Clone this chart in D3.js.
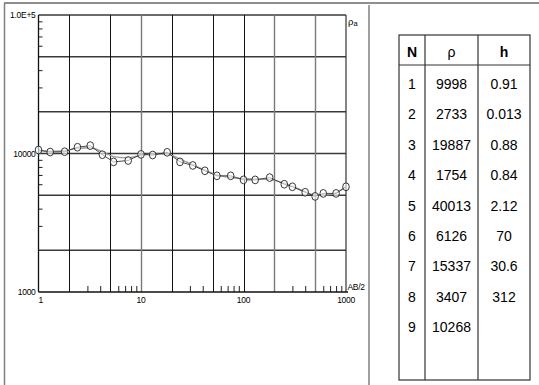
<!DOCTYPE html>
<html>
<head>
<meta charset="utf-8">
<script src="https://cdn.jsdelivr.net/npm/d3@7"></script>
<style>
  html, body { margin: 0; padding: 0; background: #fff; }
  svg { display: block; }
  text { font-family: "Liberation Sans", Arial, sans-serif; fill: #000; }
</style>
</head>
<body>
<svg id="chart" width="539" height="385"></svg>
<script>
// Sounding: half electrode spacing AB/2 (m) and apparent resistivity
const abHalf = [1, 1.3, 1.8, 2.4, 3.2, 4.2, 5.4, 7.5, 10, 13, 18, 24, 32, 42, 55, 75,
                100, 130, 180, 250, 300, 400, 500, 600, 800, 1000];
const rhoObserved = [10600, 10250, 10300, 11100, 11400, 9800, 8700, 8900, 9850, 9750, 10200, 8700, 8200,
                     7500, 6900, 6900, 6450, 6450, 6700, 6000, 5750, 5250, 4900, 5150, 5150, 5750];
const rhoModel = [10500, 10400, 10500, 10900, 11000, 10300, 9500, 9300, 9700, 9900, 9900, 9100, 8300,
                  7600, 7000, 6700, 6600, 6550, 6500, 6100, 5800, 5300, 5000, 5000, 5200, 5800];

// Layered model table
const layerN = [1, 2, 3, 4, 5, 6, 7, 8, 9];
const layerRho = [9998, 2733, 19887, 1754, 40013, 6126, 15337, 3407, 10268];
const layerH = ["0.91", "0.013", "0.88", "0.84", "2.12", "70", "30.6", "312", ""];
const tableHeaders = ["N", "\u03c1", "h"];

// Axis ticks
const xLabelTicks = [1, 10, 100, 1000];
const xGridDark = [2, 5, 20, 50, 100];
const xGridLight = [10, 200, 500];
const yGrid = [2000, 5000, 10000, 20000, 50000];
const yLabelTicks = [{v: 100000, t: "1.0E+5"}, {v: 10000, t: "10000"}, {v: 1000, t: "1000"}];

const svg = d3.select("#chart");
svg.append("rect").attr("width", 539).attr("height", 385).attr("fill", "#fff");

// Outer frame
svg.append("line").attr("x1", 4).attr("y1", 3).attr("x2", 539).attr("y2", 3)
  .attr("stroke", "#6a6a6a").attr("stroke-width", 1.5);
svg.append("line").attr("x1", 4.5).attr("y1", 3).attr("x2", 4.5).attr("y2", 385)
  .attr("stroke", "#808080").attr("stroke-width", 1.5);
svg.append("line").attr("x1", 369).attr("y1", 5).attr("x2", 369).attr("y2", 385)
  .attr("stroke", "#808080").attr("stroke-width", 1.5);

const L = 38.5, R = 346, T = 15, B = 292;
const x = d3.scaleLog().domain([1, 1000]).range([L, R]);
const y = d3.scaleLog().domain([1000, 100000]).range([B, T]);

const plot = svg.append("g");

// Horizontal grid lines
plot.selectAll("line.hg").data(yGrid).join("line")
  .attr("x1", L).attr("x2", R).attr("y1", d => y(d)).attr("y2", d => y(d))
  .attr("stroke", "#3a3a3a").attr("stroke-width", 1.6);
plot.append("line").attr("x1", L).attr("x2", R).attr("y1", T).attr("y2", T)
  .attr("stroke", "#3a3a3a").attr("stroke-width", 1.6);

// Vertical grid lines
plot.selectAll("line.vd").data(xGridDark).join("line")
  .attr("x1", d => Math.round(x(d)) + 0.5).attr("x2", d => Math.round(x(d)) + 0.5)
  .attr("y1", T).attr("y2", B).attr("stroke", "#111").attr("stroke-width", 1);
plot.selectAll("line.vl").data(xGridLight).join("line")
  .attr("x1", d => Math.round(x(d)) + 0.5).attr("x2", d => Math.round(x(d)) + 0.5)
  .attr("y1", T).attr("y2", B).attr("stroke", "#7a7a7a").attr("stroke-width", 1.4);
plot.append("line").attr("x1", R).attr("x2", R).attr("y1", T).attr("y2", B)
  .attr("stroke", "#333").attr("stroke-width", 1.2);

// Axes: minor ticks drawn inward
const xAxis = d3.axisTop(x).tickValues(d3.range(0, 3).flatMap(e => [3, 4, 6, 7, 8, 9].map(k => k * Math.pow(10, e))))
  .tickSize(6).tickFormat("");
plot.append("g").attr("transform", `translate(0,${B})`).call(xAxis)
  .call(g => g.select(".domain").remove())
  .selectAll("line").attr("stroke", "#222");
plot.append("line").attr("x1", L).attr("x2", R + 2).attr("y1", B).attr("y2", B)
  .attr("stroke", "#111").attr("stroke-width", 1.3);

const yAxis = d3.axisRight(y).tickValues(d3.range(3, 5).flatMap(e => [3, 4, 6, 7, 8, 9].map(k => k * Math.pow(10, e))))
  .tickSize(4).tickFormat("");
plot.append("g").attr("transform", `translate(${L},0)`).call(yAxis)
  .call(g => g.select(".domain").remove())
  .selectAll("line").attr("stroke", "#222");
plot.append("line").attr("x1", L).attr("x2", L).attr("y1", T).attr("y2", B)
  .attr("stroke", "#111").attr("stroke-width", 1.3);

// Axis labels
plot.selectAll("text.yl").data(yLabelTicks).join("text")
  .attr("x", 35.5).attr("y", d => y(d.v) + 3)
  .attr("text-anchor", "end").attr("font-size", 8.5).attr("letter-spacing", -0.3)
  .text(d => d.t);
plot.selectAll("text.xl").data(xLabelTicks).join("text")
  .attr("x", d => x(d)).attr("y", B + 11)
  .attr("text-anchor", (d, i) => i === 0 ? "start" : "middle")
  .attr("font-size", 8.5).attr("letter-spacing", -0.3)
  .text(d => d);
plot.append("text").attr("x", R + 1.5).attr("y", B - 2).attr("font-size", 8.5)
  .attr("letter-spacing", -0.3).text("AB/2");
const rhoLabel = plot.append("text").attr("x", R + 2).attr("y", T + 10).attr("font-size", 9.5);
rhoLabel.append("tspan").text("\u03c1");
rhoLabel.append("tspan").attr("font-size", 7.5).attr("dy", 1).text("a");

// Model curve
const line = d3.line().x((d, i) => x(abHalf[i])).y(d => y(d)).curve(d3.curveMonotoneX);
plot.append("path").datum(rhoModel).attr("d", line)
  .attr("fill", "none").attr("stroke", "#9a9a9a").attr("stroke-width", 1.3);

// Observed curve with open markers
const lineObs = d3.line().x((d, i) => x(abHalf[i])).y(d => y(d));
plot.append("path").datum(rhoObserved).attr("d", lineObs)
  .attr("fill", "none").attr("stroke", "#333").attr("stroke-width", 0.9);
plot.selectAll("ellipse.obs").data(rhoObserved).join("ellipse")
  .attr("cx", (d, i) => x(abHalf[i])).attr("cy", d => y(d))
  .attr("rx", 3.3).attr("ry", 3.9)
  .attr("fill", "#fff").attr("fill-opacity", 0.6)
  .attr("stroke", "#222").attr("stroke-width", 0.9);

// Layer table
const tL = 399, tR = 530, tT = 35, tH = 65, tB = 380;
const colX = [tL, 425, 478, tR];
const tbl = svg.append("g");
tbl.append("rect").attr("x", tL).attr("y", tT).attr("width", tR - tL).attr("height", tB - tT)
  .attr("fill", "none").attr("stroke", "#333").attr("stroke-width", 1.2);
tbl.append("line").attr("x1", tL).attr("x2", tR).attr("y1", tH).attr("y2", tH)
  .attr("stroke", "#333").attr("stroke-width", 1.2);
tbl.selectAll("line.col").data(colX.slice(1, 3)).join("line")
  .attr("x1", d => d).attr("x2", d => d).attr("y1", tT).attr("y2", tB)
  .attr("stroke", "#333").attr("stroke-width", 1.2);

const colMid = [0, 1, 2].map(i => (colX[i] + colX[i + 1]) / 2);
tbl.selectAll("text.hdr").data(tableHeaders).join("text")
  .attr("x", (d, i) => colMid[i]).attr("y", 57)
  .attr("text-anchor", "middle").attr("font-size", 14)
  .attr("font-weight", (d, i) => i === 1 ? "normal" : "bold")
  .text(d => d);

const rowY = d3.scaleLinear().domain([1, 9]).range([84, 327]);
const rows = layerN.map((n, i) => [n, layerRho[i], layerH[i]]);
rows.forEach((r, ri) => {
  tbl.selectAll(null).data(r).join("text")
    .attr("x", (d, i) => colMid[i]).attr("y", rowY(ri + 1) + 5)
    .attr("text-anchor", "middle").attr("font-size", 14)
    .text(d => d);
});
</script>
</body>
</html>
